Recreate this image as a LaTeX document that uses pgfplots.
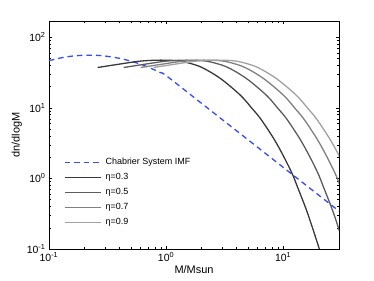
\documentclass[border=0pt]{standalone}
\usepackage{pgfplots}
\pgfplotsset{compat=1.18}
\usepackage{fontspec}
\setmainfont{Liberation Sans}
\definecolor{chab}{rgb}{0.2,0.3,1.0}
\begin{document}
\begin{tikzpicture}
\begin{axis}[
  xmode=log, ymode=log,
  scale only axis,
  width=290bp, height=228bp,
  xmin=0.1, xmax=30,
  ymin=0.1, ymax=170,
  tick align=inside,
  major tick length=3bp,
  minor tick length=1.8bp,
  every tick/.style={black, line width=0.4pt},
  axis line style={line width=0.6pt},
  log number format basis/.code 2 args={#1\textsuperscript{\pgfmathprintnumber[assume math mode=true]{#2}}},
  tick label style={font=\fontsize{10.5}{12}\selectfont},
  label style={font=\fontsize{11}{13}\selectfont},
  xlabel={M/Msun},
  ylabel={dn/dlogM},
  xlabel style={yshift=3bp},
  ylabel style={yshift=-2bp},
  legend style={at={(0.052,0.40)}, anchor=north west, draw=none, fill=none,
    font=\fontsize{9}{10}\selectfont, inner sep=0pt, row sep=6.5bp,
    nodes={inner sep=0pt, text height=6.5bp, text depth=2bp}},
  legend cell align=left,
  /tikz/every odd column/.append style={column sep=4bp},
  legend image code/.code={\draw[#1] (0bp,0bp) -- (36bp,0bp);},
]
\addplot[chab, line width=1.3pt, dash pattern=on 5.5pt off 4pt, smooth] coordinates {
(0.1,46.59) (0.13,51.49) (0.16,54.18) (0.2,55.65) (0.25,55.54) (0.3,54.27)
(0.4,50.30) (0.5,45.88) (0.6,41.66) (0.7,37.82) (0.8,34.40) (0.9,31.37)
(1.0,28.68) (2,11.65) (3,6.875) (5,3.539) (10,1.437) (20,0.5837) (30,0.3448)};
\addlegendentry{Chabrier System IMF}
\addplot[black!78, line width=1.3pt, smooth] coordinates {
(0.2604,37.3) (0.406,41.8) (0.602,45.9) (0.894,47.4) (1.326,45.9) (1.968,38.1)
(2.920,25.96) (4.332,14.99) (5.457,9.68) (6.43,6.97) (8.36,3.61) (10.18,2.0)
(12.02,1.14) (13.26,0.756) (16.15,0.3236) (20.39,0.1)};
\addlegendentry{η=0.3}
\addplot[black!64, line width=1.3pt, smooth] coordinates {
(0.434,37.3) (0.677,41.8) (1.003,45.9) (1.490,47.4) (2.210,45.9) (3.280,38.1)
(4.867,25.96) (7.22,14.99) (9.095,9.68) (10.72,6.97) (13.93,3.61) (16.97,2.0)
(20.03,1.14) (22.10,0.756) (26.92,0.3236) (33.98,0.1)};
\addlegendentry{η=0.5}
\addplot[black!50, line width=1.3pt, smooth] coordinates {
(0.6076,37.3) (0.947,41.8) (1.405,45.9) (2.086,47.4) (3.094,45.9) (4.592,38.1)
(6.813,25.96) (10.11,14.99) (12.73,9.68) (15.00,6.97) (19.51,3.61) (23.75,2.0)
(28.05,1.14) (30.94,0.756) (37.68,0.3236)};
\addlegendentry{η=0.7}
\addplot[black!37, line width=1.3pt, smooth] coordinates {
(0.781,37.3) (1.218,41.8) (1.806,45.9) (2.682,47.4) (3.978,45.9) (5.904,38.1)
(8.76,25.96) (13.0,14.99) (16.37,9.68) (19.29,6.97) (25.08,3.61) (30.54,2.0)
(36.06,1.14)};
\addlegendentry{η=0.9}
\end{axis}
\path ([shift={(-49bp,-32bp)}]current axis.south west) rectangle ([shift={(35bp,21bp)}]current axis.north east);
\end{tikzpicture}
\end{document}
